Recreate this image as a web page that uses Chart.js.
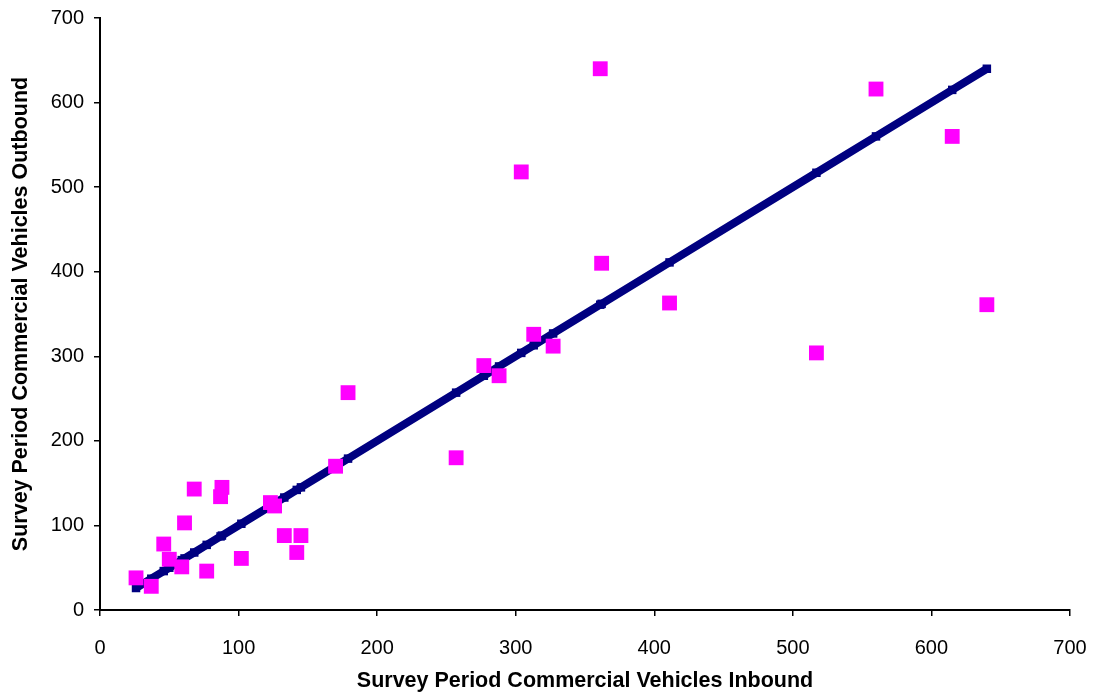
<!DOCTYPE html>
<html>
<head>
<meta charset="utf-8">
<title>Commercial Vehicles Inbound vs Outbound</title>
<script src="https://cdn.jsdelivr.net/npm/chart.js@4/dist/chart.umd.min.js"></script>
<style>
  html, body { margin: 0; padding: 0; background: #fff; }
  #chart { display: block; }
</style>
</head>
<body>
<canvas id="chart" width="1099" height="700"></canvas>
<script>
// Valores (vehículos comerciales en el periodo de la encuesta)
const inbound = [26, 37, 46, 50, 59, 61, 68, 77, 87, 88, 102, 123, 126, 133, 145, 142,
  170, 179, 257, 277, 288, 304, 313, 327, 361, 362, 411, 517, 560, 615, 640];
const outbound = [38, 28, 78, 60, 51, 103, 143, 46, 134, 145, 61, 127, 123, 88, 88, 68,
  170, 257, 180, 289, 277, 518, 326, 312, 640, 410, 363, 304, 616, 560, 361];
// Línea de igualdad (entrada = salida) en los mismos valores de entrada
const parityValues = inbound.slice().sort((a, b) => a - b);

const axisTicks = [0, 100, 200, 300, 400, 500, 600, 700];
const xTitle = 'Survey Period Commercial Vehicles Inbound';
const yTitle = 'Survey Period Commercial Vehicles Outbound';

const FONT = '"Liberation Sans", Arial, sans-serif';

function axisOptions(title, isX) {
  return {
    type: 'linear',
    min: axisTicks[0],
    max: axisTicks[axisTicks.length - 1],
    afterBuildTicks: scale => {
      scale.ticks = axisTicks.map(v => ({ value: v }));
    },
    afterFit: scale => {
      // Tamaño fijo de los ejes y sin reservar hueco para las etiquetas extremas
      if (isX) {
        scale.height = 90;
      } else {
        scale.width = 100;
      }
      scale.paddingTop = 0;
      scale.paddingBottom = 0;
      scale.paddingLeft = 0;
      scale.paddingRight = 0;
    },
    ticks: {
      color: '#000',
      font: { family: FONT, size: 20 },
      padding: isX ? 20 : 10,
      maxRotation: 0,
    },
    grid: {
      drawOnChartArea: false,
      drawTicks: true,
      tickLength: 6,
      color: '#000',
      lineWidth: 1.5,
    },
    border: { display: true, color: '#000', width: 2 },
    title: {
      display: true,
      text: title,
      color: '#000',
      font: { family: FONT, size: 21.5, weight: 'bold' },
      padding: isX ? { top: 0, bottom: 6 } : { top: 8, bottom: 0 },
    },
  };
}

const ctx = document.getElementById('chart').getContext('2d');
new Chart(ctx, {
  type: 'scatter',
  data: {
    datasets: [
      {
        label: 'Survey',
        data: inbound.map((x, i) => ({ x: x, y: outbound[i] })),
        pointStyle: 'rect',
        pointRadius: 10.5,
        pointHoverRadius: 10.5,
        backgroundColor: '#ff00ff',
        borderColor: '#ff00ff',
        borderWidth: 0,
        order: 0,
      },
      {
        label: 'Inbound = Outbound',
        data: parityValues.map(v => ({ x: v, y: v })),
        showLine: true,
        borderColor: '#000080',
        backgroundColor: '#000080',
        borderWidth: 8,
        pointStyle: 'rect',
        pointRadius: 6,
        pointHoverRadius: 6,
        pointBorderWidth: 0,
        tension: 0,
        order: 1,
      },
    ],
  },
  options: {
    responsive: false,
    animation: false,
    devicePixelRatio: 1,
    layout: { padding: { top: 18, right: 29, bottom: 0, left: 0 } },
    plugins: {
      legend: { display: false },
      tooltip: { enabled: false },
    },
    scales: {
      x: axisOptions(xTitle, true),
      y: axisOptions(yTitle, false),
    },
  },
});
</script>
</body>
</html>
